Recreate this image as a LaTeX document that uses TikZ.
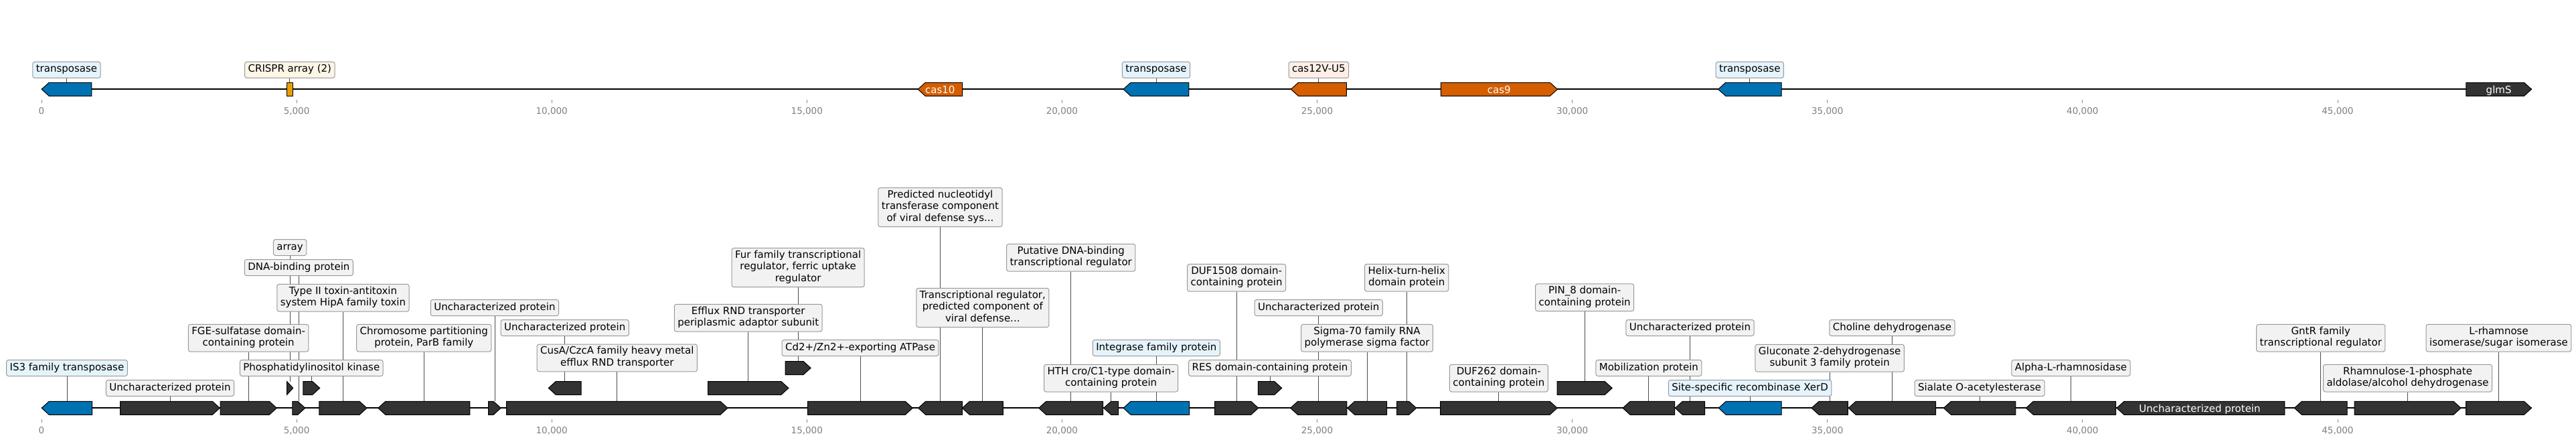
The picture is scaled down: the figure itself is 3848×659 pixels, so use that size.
\documentclass[tikz,border=0pt]{standalone}
\usepackage{fontspec}
\setmainfont{DejaVu Sans}
\usetikzlibrary{backgrounds}

\definecolor{genedark}{HTML}{333333}
\definecolor{geneblue}{HTML}{0072B2}
\definecolor{casorange}{HTML}{D55E00}
\definecolor{crisprorange}{HTML}{E69F00}
\definecolor{boxgrey}{HTML}{F2F2F2}
\definecolor{boxblue}{HTML}{E5F4FC}
\definecolor{boxcream}{HTML}{FDF5E6}
\definecolor{boxpeach}{HTML}{FDEFE6}

\tikzset{
  genebody/.style={draw=black, line width=1pt},
  featlabel/.style={draw=black!40, line width=1pt, rounded corners=3pt, fill=boxgrey,
    align=center, inner xsep=5pt, inner ysep=3.25pt,
    font=\fontsize{15}{17.5}\selectfont,
    execute at begin node=\strut, execute at end node=\strut},
  bluelabel/.style={featlabel, fill=boxblue},
  intext/.style={text=white, font=\fontsize{15}{17.5}\selectfont, inner sep=0pt, anchor=base},
  leader/.style={draw=black!70, line width=0.8pt},
  backbone/.style={line width=2pt},
  tickmark/.style={draw=black!45, line width=0.8pt},
  ticklabel/.style={text=black!50, font=\fontsize{13.5}{15}\selectfont, inner sep=0pt, anchor=base},
}

% gene arrows: name, start, end, y of axis, fill
\newcommand{\fwdgene}[5]{%
  \pgfmathsetmacro{\headlen}{min(11,#3-#2)}
  \draw[genebody, fill=#5] (#2,#4-10) -- ({#3-\headlen},#4-10) -- (#3,#4)
    -- ({#3-\headlen},#4+10) -- (#2,#4+10) -- cycle;
  \coordinate (#1) at ({(#2+#3)/2},#4-10);}
\newcommand{\revgene}[5]{%
  \pgfmathsetmacro{\headlen}{min(11,#3-#2)}
  \draw[genebody, fill=#5] (#3,#4-10) -- ({#2+\headlen},#4-10) -- (#2,#4)
    -- ({#2+\headlen},#4+10) -- (#3,#4+10) -- cycle;
  \coordinate (#1) at ({(#2+#3)/2},#4-10);}

\begin{document}
\begin{tikzpicture}[x=1pt, y=-1pt]
\begin{pgfonlayer}{background}
  \fill[white] (0,0) rectangle (3848,659);
\end{pgfonlayer}
\useasboundingbox (0,0) rectangle (3848,659);

% overview track
\draw[backbone] (62,133.3) -- (3781.5,133.3);
\revgene{t1}{62.2}{136.8}{133.3}{geneblue}
\draw[genebody, fill=crisprorange] (428.7,123.3) rectangle (437,143.3);
\coordinate (t2) at (432.85,123.3);
\revgene{t3}{1371.2}{1437.5}{133.3}{casorange}
\revgene{t4}{1678}{1775.9}{133.3}{geneblue}
\revgene{t5}{1928.4}{2011.3}{133.3}{casorange}
\fwdgene{t6}{2152.3}{2326.4}{133.3}{casorange}
\revgene{t7}{2566.6}{2661}{133.3}{geneblue}
\fwdgene{t8}{3683.7}{3781.5}{133.3}{genedark}
\node[intext] (n3) at (1404.35,139.8) {cas10};
\node[intext] (n6) at (2239.35,139.8) {cas9};
\node[intext] (n8) at (3732.6,139.8) {glmS};

\node[bluelabel] (u1) at (t1 |- 0,104.4) {transposase};
\node[featlabel, fill=boxcream] (u2) at (t2 |- 0,104.4) {CRISPR array (2)};
\node[bluelabel] (u4) at (t4 |- 0,104.4) {transposase};
\node[featlabel, fill=boxpeach] (u5) at (t5 |- 0,104.4) {cas12V-U5};
\node[bluelabel] (u7) at (t7 |- 0,104.4) {transposase};

\foreach \k/\txt in {0/0,1/{5,000},2/{10,000},3/{15,000},4/{20,000},5/{25,000},6/{30,000},7/{35,000},8/{40,000},9/{45,000}} {
  \draw[tickmark] (62+381.1*\k,149.3) -- (62+381.1*\k,154);
  \node[ticklabel] (ta\k) at (62+381.1*\k,170.7) {\txt};
}

% detailed track
\draw[backbone] (62,609.3) -- (3781.5,609.3);
\revgene{g1}{62.3}{137.6}{609.3}{geneblue}
\fwdgene{g2}{179.7}{328.3}{609.3}{genedark}
\fwdgene{g3}{329}{413.3}{609.3}{genedark}
\fwdgene{g4}{436.9}{455.8}{609.3}{genedark}
\fwdgene{g5}{428.5}{437.7}{579.5}{genedark}
\fwdgene{g6}{452.9}{477.7}{579.5}{genedark}
\fwdgene{g7}{476.9}{548}{609.3}{genedark}
\revgene{g8}{564.8}{701.9}{609.3}{genedark}
\fwdgene{g9}{729.6}{748.2}{609.3}{genedark}
\fwdgene{g10}{756.6}{1087}{609.3}{genedark}
\revgene{g11}{819.3}{868.1}{579.5}{genedark}
\fwdgene{g12}{1057.5}{1177.9}{579.5}{genedark}
\fwdgene{g13}{1173.2}{1211.1}{549.5}{genedark}
\fwdgene{g14}{1206.7}{1363.3}{609.3}{genedark}
\revgene{g15}{1371.7}{1437.3}{609.3}{genedark}
\revgene{g16}{1437.3}{1498.3}{609.3}{genedark}
\revgene{g17}{1551.7}{1647.7}{609.3}{genedark}
\revgene{g18}{1648.7}{1670.6}{609.3}{genedark}
\revgene{g19}{1678.1}{1776.6}{609.3}{geneblue}
\fwdgene{g20}{1814.5}{1879.7}{609.3}{genedark}
\fwdgene{g21}{1879.3}{1914.7}{579.5}{genedark}
\revgene{g22}{1927.6}{2011.8}{609.3}{genedark}
\revgene{g23}{2012.6}{2071.5}{609.3}{genedark}
\fwdgene{g24}{2086.7}{2115.7}{609.3}{genedark}
\fwdgene{g25}{2151.5}{2326.1}{609.3}{genedark}
\fwdgene{g26}{2326.1}{2408.2}{579.5}{genedark}
\revgene{g27}{2424}{2501.7}{609.3}{genedark}
\revgene{g28}{2502.3}{2546.7}{609.3}{genedark}
\revgene{g29}{2567.2}{2661}{609.3}{geneblue}
\revgene{g30}{2706}{2760.3}{609.3}{genedark}
\revgene{g31}{2761.2}{2891.6}{609.3}{genedark}
\revgene{g32}{2903.4}{3010.8}{609.3}{genedark}
\revgene{g33}{3026.3}{3160.6}{609.3}{genedark}
\revgene{g34}{3161.9}{3412.8}{609.3}{genedark}
\revgene{g35}{3427.3}{3506.2}{609.3}{genedark}
\fwdgene{g36}{3517}{3676}{609.3}{genedark}
\fwdgene{g37}{3683.5}{3781.4}{609.3}{genedark}
\node[intext] (n34) at (3286,615.3) {Uncharacterized protein};

\node[bluelabel] (l1) at (g1 |- 0,549.5) {IS3 family transposase};
\node[featlabel] (l2) at (g2 |- 0,579.5) {Uncharacterized protein};
\node[featlabel] (l3) at (g3 |- 0,504.7) {FGE-sulfatase domain-\\containing protein};
\node[featlabel] (l4) at (g4 |- 0,399.5) {DNA-binding protein};
\node[featlabel] (l5) at (g5 |- 0,369.5) {array};
\node[featlabel] (l6) at (g6 |- 0,549.5) {Phosphatidylinositol kinase};
\node[featlabel] (l7) at (g7 |- 0,444.7) {Type II toxin-antitoxin\\system HipA family toxin};
\node[featlabel] (l8) at (g8 |- 0,504.7) {Chromosome partitioning\\protein, ParB family};
\node[featlabel] (l9) at (g9 |- 0,459.5) {Uncharacterized protein};
\node[featlabel] (l10) at (g10 |- 0,534.5) {CusA/CzcA family heavy metal\\efflux RND transporter};
\node[featlabel] (l11) at (g11 |- 0,489.5) {Uncharacterized protein};
\node[featlabel] (l12) at (g12 |- 0,474.7) {Efflux RND transporter\\periplasmic adaptor subunit};
\node[featlabel] (l13) at (g13 |- 0,399.5) {Fur family transcriptional\\regulator, ferric uptake\\regulator};
\node[featlabel] (l14) at (g14 |- 0,519.5) {Cd2+/Zn2+-exporting ATPase};
\node[featlabel] (l15) at (g15 |- 0,309.5) {Predicted nucleotidyl\\transferase component\\of viral defense sys...};
\node[featlabel] (l16) at (g16 |- 0,459.5) {Transcriptional regulator,\\predicted component of\\viral defense...};
\node[featlabel] (l17) at (g17 |- 0,384.7) {Putative DNA-binding\\transcriptional regulator};
\node[featlabel] (l18) at (g18 |- 0,564.7) {HTH cro/C1-type domain-\\containing protein};
\node[bluelabel] (l19) at (g19 |- 0,519.5) {Integrase family protein};
\node[featlabel] (l20) at (g20 |- 0,414.7) {DUF1508 domain-\\containing protein};
\node[featlabel] (l21) at (g21 |- 0,549.5) {RES domain-containing protein};
\node[featlabel] (l22) at (g22 |- 0,459.5) {Uncharacterized protein};
\node[featlabel] (l23) at (g23 |- 0,504.7) {Sigma-70 family RNA\\polymerase sigma factor};
\node[featlabel] (l24) at (g24 |- 0,414.7) {Helix-turn-helix\\domain protein};
\node[featlabel] (l25) at (g25 |- 0,564.7) {DUF262 domain-\\containing protein};
\node[featlabel] (l26) at (g26 |- 0,444.2) {PIN\_8 domain-\\containing protein};
\node[featlabel] (l27) at (g27 |- 0,549.5) {Mobilization protein};
\node[featlabel] (l28) at (g28 |- 0,489.5) {Uncharacterized protein};
\node[bluelabel] (l29) at (g29 |- 0,579.5) {Site-specific recombinase XerD};
\node[featlabel] (l30) at (g30 |- 0,534.7) {Gluconate 2-dehydrogenase\\subunit 3 family protein};
\node[featlabel] (l31) at (g31 |- 0,489.5) {Choline dehydrogenase};
\node[featlabel] (l32) at (g32 |- 0,579.5) {Sialate O-acetylesterase};
\node[featlabel] (l33) at (g33 |- 0,549.5) {Alpha-L-rhamnosidase};
\node[featlabel] (l35) at (g35 |- 0,504.7) {GntR family\\transcriptional regulator};
\node[featlabel] (l36) at (g36 |- 0,564.7) {Rhamnulose-1-phosphate\\aldolase/alcohol dehydrogenase};
\node[featlabel] (l37) at (g37 |- 0,504.7) {L-rhamnose\\isomerase/sugar isomerase};

\foreach \k/\txt in {0/0,1/{5,000},2/{10,000},3/{15,000},4/{20,000},5/{25,000},6/{30,000},7/{35,000},8/{40,000},9/{45,000}} {
  \draw[tickmark] (62+381.1*\k,625.7) -- (62+381.1*\k,630.7);
  \node[ticklabel] (tb\k) at (62+381.1*\k,647.5) {\txt};
}

% leader lines, behind the boxes
\begin{pgfonlayer}{background}
  \foreach \i in {1,2,4,5,7} \draw[leader] (u\i.south) -- (t\i);
  \foreach \i in {1,...,33} \draw[leader] (l\i.south) -- (g\i);
  \foreach \i in {35,36,37} \draw[leader] (l\i.south) -- (g\i);
\end{pgfonlayer}
\end{tikzpicture}
\end{document}
